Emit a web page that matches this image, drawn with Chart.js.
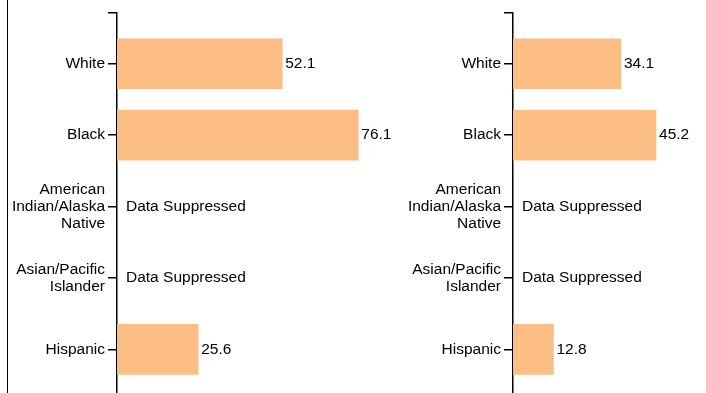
<!DOCTYPE html>
<html lang="en">
<head>
  <meta charset="UTF-8">
  <title>Rates by Race/Ethnicity</title>
  <script src="https://cdn.jsdelivr.net/npm/chart.js"></script>
  <style>
    body { margin: 0; background: #fff; }
    #wrap { position: relative; width: 706px; height: 393px; overflow: hidden; }
    .panel { position: absolute; top: 0; height: 393px; }
    #edge { position: absolute; left: 7px; top: 0; height: 393px; border-left: 1.5px solid #000; }
  </style>
</head>
<body>
  <div id="wrap">
    <div id="edge"></div>
    <div class="panel" style="left: 0; width: 396px;"><canvas id="leftChart"></canvas></div>
    <div class="panel" style="left: 396px; width: 310px;"><canvas id="rightChart"></canvas></div>
  </div>

  <script>
    // categories (multi-line where the label wraps)
    const groups = [
      ['White'],
      ['Black'],
      ['American', 'Indian/Alaska', 'Native'],
      ['Asian/Pacific', 'Islander'],
      ['Hispanic']
    ];

    // rates per panel, null = suppressed
    const leftRates = [52.1, 76.1, null, null, 25.6];
    const rightRates = [34.1, 45.2, null, null, 12.8];

    // x domain of each panel
    const leftMax = 88;
    const rightMax = 61;

    const suppressedText = 'Data Suppressed';
    const barColor = '#fdbe85';
    const fontFamily = '"Liberation Sans", Arial, Helvetica, sans-serif';
    const fontSize = 15.5;

    Chart.defaults.font.family = fontFamily;
    Chart.defaults.font.size = fontSize;
    Chart.defaults.color = '#000';

    // writes the value (or the suppressed note) to the right of each bar
    const valueLabels = {
      id: 'valueLabels',
      afterDatasetsDraw(chart) {
        const ctx = chart.ctx;
        const xs = chart.scales.x;
        const ys = chart.scales.y;
        const values = chart.data.datasets[0].data;
        ctx.save();
        ctx.font = fontSize + 'px ' + fontFamily;
        ctx.fillStyle = '#000';
        ctx.textBaseline = 'middle';
        ctx.textAlign = 'left';
        values.forEach((d) => {
          const y = ys.getPixelForValue(d.y);
          if (d.x == null) {
            ctx.fillText(suppressedText, xs.getPixelForValue(0) + 9, y);
          } else {
            ctx.fillText(d.x.toFixed(1), xs.getPixelForValue(d.x) + 3, y);
          }
        });
        ctx.restore();
      }
    };

    function makeChart(id, rates, xMax) {
      const points = rates.map((v, i) => ({ x: v, y: i }));
      return new Chart(document.getElementById(id), {
        type: 'bar',
        data: {
          datasets: [{
            data: points,
            backgroundColor: barColor,
            borderWidth: 0,
            barThickness: 50
          }]
        },
        options: {
          indexAxis: 'y',
          responsive: true,
          maintainAspectRatio: false,
          animation: false,
          layout: { padding: { top: 13, right: 0, bottom: 0, left: 0 } },
          plugins: { legend: { display: false }, tooltip: { enabled: false } },
          scales: {
            x: { type: 'linear', min: 0, max: xMax, display: false },
            y: {
              type: 'linear',
              reverse: true,
              offset: false,
              min: -0.71,
              max: 4.61,
              afterFit: (s) => {
                s.width = 117;
                s.paddingTop = 0;
                s.paddingBottom = 0;
              },
              afterBuildTicks: (s) => {
                // outer tick at the top of the axis, then one per group
                s.ticks = [-0.71, 0, 1, 2, 3, 4].map((v) => ({ value: v }));
              },
              ticks: {
                padding: 3,
                color: '#000',
                font: { size: fontSize, lineHeight: 1.1 },
                callback: (v) => (Number.isInteger(v) && groups[v]) ? groups[v] : ''
              },
              grid: {
                offset: false,
                drawOnChartArea: false,
                drawTicks: true,
                tickLength: 9,
                color: '#000',
                lineWidth: 1.5
              },
              border: { display: true, color: '#000', width: 1.5 }
            }
          }
        },
        plugins: [valueLabels]
      });
    }

    makeChart('leftChart', leftRates, leftMax);
    makeChart('rightChart', rightRates, rightMax);
  </script>
</body>
</html>
